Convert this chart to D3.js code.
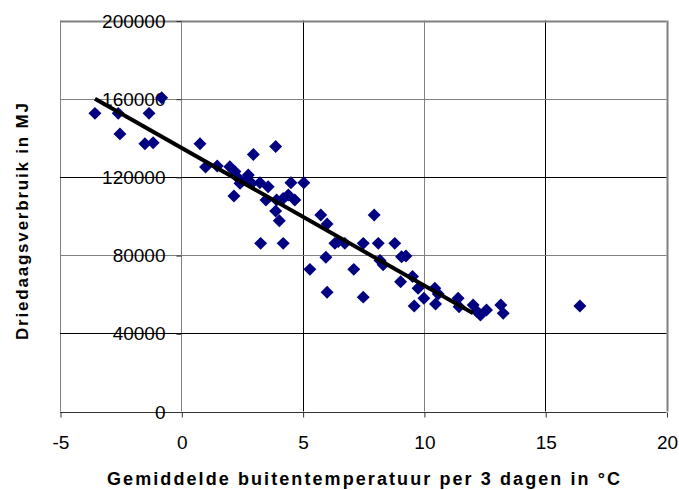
<!DOCTYPE html>
<html>
<head>
<meta charset="utf-8">
<script src="https://cdn.jsdelivr.net/npm/d3@7"></script>
<style>
  html, body { margin: 0; padding: 0; background: #fff; }
  svg { display: block; font-family: "Liberation Sans", Arial, sans-serif; }
</style>
</head>
<body>
<svg id="chart" width="679" height="490"></svg>
<script>
// Average outdoor temperature per 3 days (°C)
const temperature = [
  -3.56, -2.6, -1.33, -0.81, -2.53, -1.5, -1.16, 0.77, 1.0, 1.48,
  2.97, 3.89, 2.0, 2.21, 2.35, 2.42, 2.76, 2.69, 2.9, 3.24,
  3.58, 2.17, 3.49, 3.93, 4.2, 4.41, 4.68, 4.52, 5.05, 3.89,
  4.04, 3.27, 4.2, 5.75, 6.01, 6.33, 6.47, 6.74, 7.5, 8.12,
  7.95, 5.96, 5.3, 7.11, 6.01, 7.5, 8.19, 8.32, 8.8, 9.08,
  9.26, 9.04, 9.53, 9.76, 10.0, 9.6, 10.45, 10.59, 10.48, 11.41,
  11.45, 12.03, 12.2, 12.33, 12.58, 13.17, 13.27, 16.43
];
// Three-day consumption (MJ)
const consumption = [
  152500, 152500, 152500, 160500, 142000, 137000, 137500, 137000, 125000, 125600,
  131500, 135500, 125200, 122700, 119300, 116700, 121000, 118400, 116700, 117000,
  115000, 110200, 108200, 108200, 109000, 110700, 108200, 117000, 117000, 102500,
  97600, 86000, 86000, 100500, 95900, 86000, 86900, 86000, 86000, 86000,
  100500, 78900, 72700, 72700, 61000, 58500, 77300, 75000, 86000, 79200,
  79500, 66400, 69000, 63000, 57900, 54000, 63000, 60100, 55000, 57900,
  53600, 54500, 51000, 49400, 51900, 54500, 50200, 54000
];
// Linear trend line end points
const trendTemperature = [-3.56, 12.03];
const trendConsumption = [160000, 50200];

const xTicks = [-5, 0, 5, 10, 15, 20];
const yTicks = [0, 40000, 80000, 120000, 160000, 200000];

const xTitle = "Gemiddelde buitentemperatuur per 3 dagen in °C";
const yTitle = "Driedaagsverbruik in MJ";

const svg = d3.select("#chart");

const x = d3.scaleLinear().domain([-5, 20]).range([60, 666.5]);
const y = d3.scaleLinear().domain([0, 200000]).range([411.5, 20.5]);

// Plain integer labels with an ASCII hyphen for negatives
const intFormat = d => String(Math.round(d));

// Grid lines (alternating grey / black as drawn by the plotting program)
const grid = svg.append("g");
const vGrey = new Set([-5, 0, 10, 20]);
const hGrey = new Set([0, 80000, 160000, 200000]);

grid.selectAll("line.v").data(xTicks).join("line")
  .attr("class", "v")
  .attr("x1", d => Math.round(x(d)) + 0.5).attr("x2", d => Math.round(x(d)) + 0.5)
  .attr("y1", y(200000)).attr("y2", y(0))
  .attr("stroke", d => vGrey.has(d) ? "#808080" : "#000")
  .attr("stroke-width", d => d === 20 ? 2 : 1);

grid.selectAll("line.h").data(yTicks).join("line")
  .attr("class", "h")
  .attr("y1", d => Math.round(y(d)) + 0.5).attr("y2", d => Math.round(y(d)) + 0.5)
  .attr("x1", x(-5)).attr("x2", x(20))
  .attr("stroke", d => d === 0 ? "#333" : (hGrey.has(d) ? "#808080" : "#000"))
  .attr("stroke-width", d => d === 200000 ? 2 : 1);

// Axes: y axis crosses at 0 °C, x axis at 0 MJ
const yAxis = svg.append("g")
  .attr("transform", `translate(${Math.round(x(0)) + 0.5},0.5)`)
  .call(d3.axisLeft(y).tickValues(yTicks).tickSize(5).tickPadding(11).tickFormat(intFormat));

const xAxis = svg.append("g")
  .attr("transform", `translate(0.5,${Math.round(y(0)) + 0.5})`)
  .call(d3.axisBottom(x).tickValues(xTicks).tickSize(5).tickPadding(18).tickFormat(intFormat));

[yAxis, xAxis].forEach(g => {
  g.select(".domain").remove();
  g.selectAll(".tick line").attr("stroke", "#333");
  g.selectAll(".tick text")
    .attr("fill", "#000")
    .style("font-family", "'Liberation Sans', Arial, sans-serif")
    .style("font-size", "19px");
});

// Data points as navy diamonds
const points = temperature.map((t, i) => ({ t, c: consumption[i] }));
const diamond = d3.symbol().type(d3.symbolSquare).size(84);
svg.append("g").selectAll("path").data(points).join("path")
  .attr("d", diamond)
  .attr("transform", d => `translate(${x(d.t)},${y(d.c)}) rotate(45)`)
  .attr("fill", "#000080");

// Trend line
const trend = trendTemperature.map((t, i) => [x(t), y(trendConsumption[i])]);
svg.append("path")
  .attr("d", d3.line()(trend))
  .attr("stroke", "#000")
  .attr("stroke-width", 4)
  .attr("fill", "none");

// Axis titles
svg.append("text")
  .attr("x", 363.5).attr("y", 485)
  .attr("text-anchor", "middle")
  .attr("textLength", 513)
  .attr("lengthAdjust", "spacing")
  .style("font-weight", "bold")
  .style("font-size", "18px")
  .text(xTitle);

svg.append("text")
  .attr("transform", "translate(28,221.5) rotate(-90)")
  .attr("text-anchor", "middle")
  .attr("textLength", 237)
  .attr("lengthAdjust", "spacing")
  .style("font-weight", "bold")
  .style("font-size", "17px")
  .text(yTitle);
</script>
</body>
</html>
